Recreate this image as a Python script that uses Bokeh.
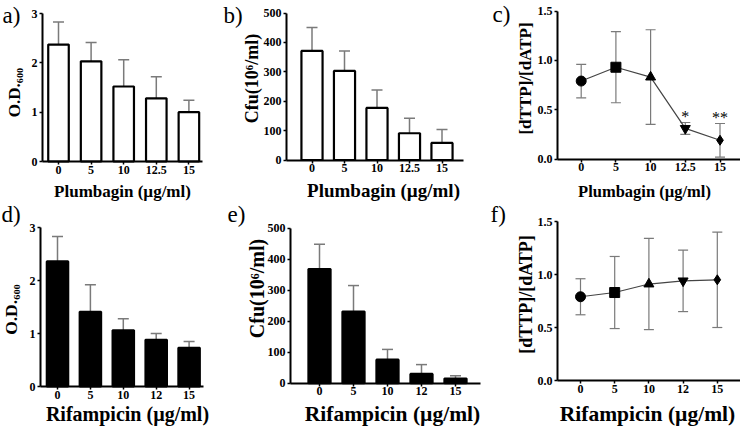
import math
from bokeh.plotting import figure
from bokeh.layouts import row, column
from bokeh.models import (ColumnDataSource, Whisker, TeeHead, FixedTicker, Label,
                          NumeralTickFormatter, Range1d)
from bokeh.core.properties import value
from bokeh.embed import file_html
from bokeh.resources import INLINE

# ---------------- data ----------------
plumbagin_doses = ["0", "5", "10", "12.5", "15"]
rifampicin_doses = ["0", "5", "10", "12", "15"]

od_plumbagin = [2.37, 2.03, 1.52, 1.28, 1.00]
od_plumbagin_sd = [0.46, 0.38, 0.54, 0.44, 0.24]
cfu_plumbagin = [371, 303, 177, 91, 58]
cfu_plumbagin_sd = [80, 68, 61, 51, 46]
ratio_plumbagin = [0.79, 0.93, 0.83, 0.31, 0.19]
ratio_plumbagin_sd = [0.17, 0.36, 0.48, 0.06, 0.17]
signif_plumbagin = ["", "", "", "*", "**"]

od_rifampicin = [2.36, 1.41, 1.06, 0.88, 0.73]
od_rifampicin_sd = [0.47, 0.51, 0.22, 0.12, 0.12]
cfu_rifampicin = [368, 231, 76, 30, 15]
cfu_rifampicin_sd = [80, 84, 33, 30, 9]
ratio_rifampicin = [0.79, 0.83, 0.91, 0.94, 0.95]
ratio_rifampicin_sd = [0.17, 0.34, 0.43, 0.29, 0.45]

od_ticks = [0, 1, 2, 3]
cfu_ticks = [0, 100, 200, 300, 400, 500]
ratio_ticks = [0, 0.5, 1.0, 1.5]

x_title_plumbagin = "Plumbagin (\u00b5g/ml)"
x_title_rifampicin = "Rifampicin (\u00b5g/ml)"
y_title_od = "O.D.\u2086\u2080\u2080"
y_title_cfu = "Cfu(10\u2076/ml)"
y_title_ratio = "[dTTP]/[dATP]"

# ---------------- style ----------------
FONT = "Liberation Serif"
DESCENT = 0.216          # font descent, in em
MARKERS = ["circle", "square", "triangle", "inverted_triangle", "diamond"]
ERR = "#7a7a7a"
TICK_FS = "12px"
LETTER_FS = 23


class Panel:
    """A figure whose frame fills the whole canvas; axes sit at fixed locations."""

    def __init__(self, X0, Y0, W, H, axis_x, x_end, idx0, pitch, y0, ytop, ymax,
                 doses, yticks, fmt=None):
        self.X0, self.Y0, self.W, self.H = X0, Y0, W, H
        self.k = (y0 - ytop) / ymax
        xr = ((X0 - idx0) / pitch, (X0 + W - idx0) / pitch)
        yr = ((y0 - (Y0 + H)) / self.k, (y0 - Y0) / self.k)
        p = figure(width=W, height=H, x_range=Range1d(*xr), y_range=Range1d(*yr),
                   output_backend="svg", toolbar_location=None,
                   min_border_left=0, min_border_right=0,
                   min_border_top=0, min_border_bottom=0,
                   background_fill_color="white", border_fill_color="white")
        p.grid.visible = False
        p.outline_line_color = None
        x_left = (axis_x - idx0) / pitch
        x_right = (x_end - idx0) / pitch
        p.xaxis.fixed_location = 0
        p.xaxis.bounds = (x_left, x_right)
        p.yaxis.fixed_location = x_left
        p.yaxis.bounds = (0, ymax)
        p.xaxis.ticker = FixedTicker(ticks=list(range(len(doses))))
        p.xaxis.major_label_overrides = {i: d for i, d in enumerate(doses)}
        p.yaxis.ticker = FixedTicker(ticks=yticks)
        if fmt:
            p.yaxis.formatter = NumeralTickFormatter(format=fmt)
        for ax in (p.xaxis[0], p.yaxis[0]):
            ax.axis_line_width = 2
            ax.axis_line_color = "black"
            ax.major_tick_line_width = 1.5
            ax.major_tick_line_color = "black"
            ax.major_tick_out = 3
            ax.major_tick_in = 0
            ax.minor_tick_out = 0
            ax.minor_tick_in = 0
            ax.major_label_text_font = FONT
            ax.major_label_text_font_style = "bold"
            ax.major_label_text_font_size = TICK_FS
            ax.major_label_text_color = "black"
        p.xaxis.major_label_standoff = 1
        p.yaxis.major_label_standoff = 2
        self.p = p

    def text(self, t, px, py, size, bold=False, angle=0.0, align="left"):
        self.p.add_layout(Label(x=px - self.X0, y=(self.Y0 + self.H) - py,
                                x_units="screen", y_units="screen", text=t,
                                text_font=FONT, text_font_size=f"{size}px",
                                text_color="black",
                                text_font_style="bold" if bold else "normal",
                                angle=angle, text_align=align,
                                text_baseline="bottom"))

    def xtitle(self, t, cx, base, size):
        # base = wanted alphabetic baseline; anchor on the box bottom
        self.text(t, cx, base + DESCENT * size, size, bold=True, align="center")

    def ytitle(self, t, base, cy, size):
        # rotated 90 deg: the box bottom lies on the right
        self.text(t, base + DESCENT * size, cy, size, bold=True,
                  angle=math.pi / 2, align="center")

    def letter(self, t, px, base, size=LETTER_FS):
        self.text(t, px, base + DESCENT * size, size)

    def bars(self, means, sds, fill, width):
        idx = list(range(len(means)))
        src = ColumnDataSource(dict(x=idx, top=means,
                                    upper=[m + s for m, s in zip(means, sds)]))
        self.p.add_layout(Whisker(base="x", lower="top", upper="upper", source=src,
                                  line_color=ERR, line_width=1.5, lower_head=None,
                                  upper_head=TeeHead(size=11, line_color=ERR,
                                                     line_width=1.5),
                                  level="underlay"))
        self.p.vbar(x="x", top="top", bottom=0, width=width, source=src,
                    fill_color=fill, line_color="black", line_width=2.2)

    def ratio(self, means, sds, signif=None):
        idx = list(range(len(means)))
        src = ColumnDataSource(dict(x=idx, y=means,
                                    upper=[m + s for m, s in zip(means, sds)],
                                    lower=[m - s for m, s in zip(means, sds)],
                                    marker=MARKERS[:len(means)]))
        self.p.add_layout(Whisker(base="x", lower="lower", upper="upper", source=src,
                                  line_color=ERR, line_width=1.2,
                                  upper_head=TeeHead(size=10, line_color=ERR, line_width=1.2),
                                  lower_head=TeeHead(size=10, line_color=ERR, line_width=1.2)))
        self.p.line("x", "y", source=src, line_color="#444444", line_width=1.2)
        self.p.scatter("x", "y", marker="marker", source=src, size=10,
                       fill_color="black", line_color="black")
        if signif is not None:
            lift = 3 / self.k   # 3 px in data units
            ssrc = ColumnDataSource(dict(x=idx, y=[u - lift for u in src.data["upper"]],
                                         t=signif))
            self.p.text("x", "y", text="t", source=ssrc, text_font=value(FONT),
                        text_font_size="16px", text_align="center",
                        text_baseline="bottom", text_color="black")


ROW1_H = 201
ROW2_H = 428 - ROW1_H

# ---------------- top row ----------------
a = Panel(0, 0, 220, ROW1_H, 42, 202, 58, 32.6, 161, 13, 3, plumbagin_doses, od_ticks)
a.bars(od_plumbagin, od_plumbagin_sd, "white", 0.63)
a.xtitle(x_title_plumbagin, 122, 196.5, 17)
a.ytitle(y_title_od, 20, 92, 17)
a.letter("a)", 2, 23)

b = Panel(220, 0, 270, ROW1_H, 286, 463, 311.5, 32.5, 159.5, 12.5, 500,
          plumbagin_doses, cfu_ticks)
b.bars(cfu_plumbagin, cfu_plumbagin_sd, "white", 0.65)
b.xtitle(x_title_plumbagin, 383, 196.5, 19)
b.ytitle(y_title_cfu, 258, 78, 18)
b.letter("b)", 223, 23)

c = Panel(490, 0, 250, ROW1_H, 557, 740, 580.7, 34.7, 158.5, 10.5, 1.5,
          plumbagin_doses, ratio_ticks, fmt="0.0")
c.ratio(ratio_plumbagin, ratio_plumbagin_sd, signif_plumbagin)
c.xtitle(x_title_plumbagin, 644, 197, 16.5)
c.ytitle(y_title_ratio, 531, 78, 17)
c.letter("c)", 492, 22)

# ---------------- bottom row ----------------
Y2 = ROW1_H
d = Panel(0, Y2, 224, ROW2_H, 40, 203, 57, 32.9, 386, 227, 3, rifampicin_doses, od_ticks)
d.bars(od_rifampicin, od_rifampicin_sd, "black", 0.65)
d.xtitle(x_title_rifampicin, 127, 420, 20)
d.ytitle(y_title_od, 17, 309, 17.5)
d.letter("d)", 1, 222)

e = Panel(224, Y2, 264, ROW2_H, 290, 480, 319, 34, 382.7, 227.7, 500,
          rifampicin_doses, cfu_ticks)
e.bars(cfu_rifampicin, cfu_rifampicin_sd, "black", 0.65)
e.xtitle(x_title_rifampicin, 392, 421, 21.5)
e.ytitle(y_title_cfu, 263, 288, 20)
e.letter("e)", 227, 222)

f = Panel(488, Y2, 252, ROW2_H, 557, 740, 580, 34.2, 380, 221, 1.5,
          rifampicin_doses, ratio_ticks, fmt="0.0")
f.ratio(ratio_rifampicin, ratio_rifampicin_sd)
f.xtitle(x_title_rifampicin, 647, 421, 21.5)
f.ytitle(y_title_ratio, 532, 294, 18)
f.letter("f)", 490, 222)

layout = column(row(a.p, b.p, c.p, spacing=0), row(d.p, e.p, f.p, spacing=0), spacing=0)

open("out.html", "w").write(file_html(layout, INLINE))
